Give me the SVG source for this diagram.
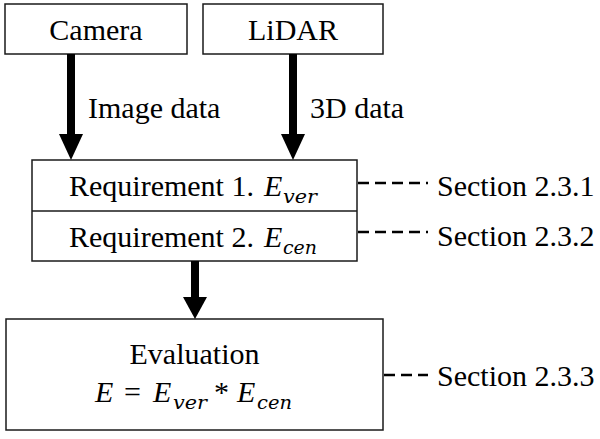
<svg xmlns="http://www.w3.org/2000/svg" width="600" height="439" viewBox="0 0 600 439">
<style>
.box{fill:#fff;stroke:#1a1a1a;stroke-width:1.5}
text{font-family:'Liberation Serif','Times New Roman',serif;font-size:30px;fill:#000}
.m{font-style:italic}
.sub{font-family:'DejaVu Serif','Liberation Serif',serif;font-size:19px;font-style:italic}
.shaft{stroke:#000;stroke-width:8;fill:none}
.head{fill:#000}
.dash{stroke:#000;stroke-width:2.5;stroke-dasharray:11 6;fill:none}
</style>
<rect width="600" height="439" fill="#fff"/>
<g id="camera">
<rect class="box" x="5" y="4" width="182" height="50"/>
<text x="96" y="40" text-anchor="middle">Camera</text>
</g>
<g id="lidar">
<rect class="box" x="203" y="4" width="180" height="50"/>
<text x="293" y="40" text-anchor="middle">LiDAR</text>
</g>
<g id="requirements">
<rect class="box" x="32" y="160" width="325" height="101"/>
<line x1="32" y1="211" x2="357" y2="211" stroke="#1a1a1a" stroke-width="1.5"/>
<text x="69" y="196">Requirement 1. <tspan class="m" x="264">E</tspan><tspan class="sub" x="283" y="203" textLength="34" lengthAdjust="spacingAndGlyphs">ver</tspan></text>
<text x="69" y="247">Requirement 2. <tspan class="m" x="264">E</tspan><tspan class="sub" x="283" y="254" textLength="34" lengthAdjust="spacingAndGlyphs">cen</tspan></text>
</g>
<g id="evaluation">
<rect class="box" x="6" y="319" width="377" height="111"/>
<text x="194.5" y="364" text-anchor="middle">Evaluation</text>
<text y="402"><tspan class="m" x="95">E</tspan><tspan x="124">=</tspan><tspan class="m" x="153">E</tspan><tspan class="sub" x="173" y="409" textLength="34" lengthAdjust="spacingAndGlyphs">ver</tspan><tspan x="214" y="402">*</tspan><tspan class="m" x="237">E</tspan><tspan class="sub" x="257" y="409" textLength="35" lengthAdjust="spacingAndGlyphs">cen</tspan></text>
</g>
<g id="sections">
<text x="437" y="196">Section 2.3.1</text>
<text x="437" y="246">Section 2.3.2</text>
<text x="437" y="386">Section 2.3.3</text>
</g>
<g id="connectors">
<line class="shaft" x1="71" y1="54" x2="71" y2="136"/>
<polygon class="head" points="59,134 83,134 71,160"/>
<text x="88" y="118">Image data</text>
<line class="shaft" x1="293" y1="54" x2="293" y2="136"/>
<polygon class="head" points="281,134 305,134 293,160"/>
<text x="310" y="118">3D data</text>
<line class="shaft" x1="195" y1="261" x2="195" y2="299"/>
<polygon class="head" points="183,297 207,297 195,319"/>
<line class="dash" x1="358" y1="183" x2="428" y2="183"/>
<line class="dash" x1="358" y1="232" x2="428" y2="232"/>
<line class="dash" x1="384" y1="375" x2="428" y2="375"/>
</g>
</svg>
